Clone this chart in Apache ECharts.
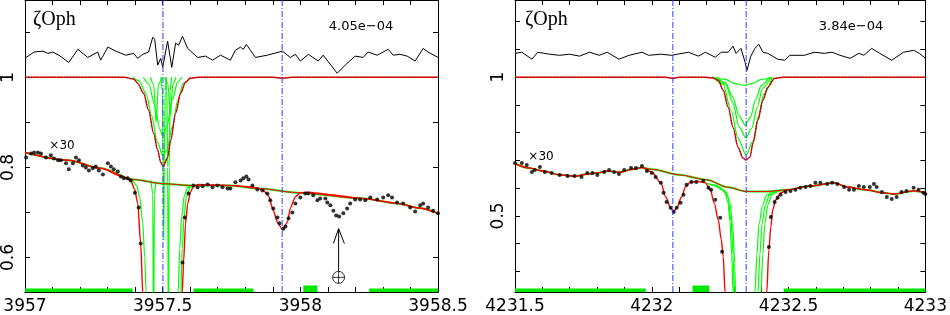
<!DOCTYPE html>
<html><head><meta charset="utf-8">
<script src="https://cdn.jsdelivr.net/npm/echarts@6/dist/echarts.min.js"></script>
<style>html,body{margin:0;padding:0;background:#fff}#c{width:950px;height:315px}</style>
</head><body><div id="c"></div>
<script>
// ---------------- LEFT PANEL DATA (3957 - 3958.5) ----------------
const leftXTicks = [3957.0,3957.1,3957.2,3957.3,3957.4,3957.5,3957.6,3957.7,3957.8,3957.9,3958.0,3958.1,3958.2,3958.3,3958.4,3958.5];
const leftXLabels = [3957.0,3957.5,3958.0,3958.5];
const leftYTicks = [0.6,0.7,0.8,0.9,1.0,1.1];
const leftYLabels = [0.6,0.8,1.0];
const leftResid = [[3957.004,1.044],[3957.033,1.056],[3957.065,1.058],[3957.083,1.053],[3957.101,1.056],[3957.123,1.049],[3957.159,1.033],[3957.192,1.062],[3957.228,1.044],[3957.264,1.056],[3957.275,1.038],[3957.301,1.067],[3957.330,1.058],[3957.366,1.049],[3957.395,1.053],[3957.409,1.042],[3957.428,1.051],[3957.449,1.056],[3957.464,1.089],[3957.471,1.084],[3957.482,1.027],[3957.493,1.042],[3957.500,1.022],[3957.518,1.080],[3957.533,1.022],[3957.547,1.076],[3957.558,1.071],[3957.572,1.091],[3957.591,1.064],[3957.627,1.044],[3957.656,1.047],[3957.681,1.038],[3957.710,1.049],[3957.746,1.038],[3957.764,1.060],[3957.783,1.067],[3957.793,1.062],[3957.804,1.073],[3957.819,1.060],[3957.837,1.044],[3957.880,1.049],[3957.935,1.058],[3957.964,1.044],[3957.982,1.051],[3958.000,1.036],[3958.029,1.051],[3958.065,1.036],[3958.083,1.049],[3958.134,1.009],[3958.163,1.027],[3958.199,1.047],[3958.228,1.044],[3958.246,1.056],[3958.279,1.049],[3958.319,1.062],[3958.337,1.049],[3958.362,1.051],[3958.388,1.047],[3958.417,1.036],[3958.446,1.064],[3958.464,1.056],[3958.500,1.044]];
const leftFit1 = [[3957.0,1.0],[3957.36,1.0],[3957.395,0.996],[3957.409,0.987],[3957.431,0.964],[3957.449,0.927],[3957.467,0.876],[3957.482,0.838],[3957.493,0.811],[3957.502,0.802],[3957.518,0.822],[3957.529,0.860],[3957.547,0.920],[3957.565,0.964],[3957.583,0.989],[3957.60,0.998],[3957.63,1.0],[3957.90,1.0],[3957.935,0.998],[3957.97,1.0],[3958.5,1.0]];
const leftComp1a = [[3957.39,1.0],[3957.415,0.992],[3957.44,0.963],[3957.46,0.915],[3957.48,0.858],[3957.50,0.826],[3957.515,0.838],[3957.535,0.89],[3957.555,0.95],[3957.575,0.987],[3957.60,1.0]];
const leftComp1b = [[3957.43,1.0],[3957.45,0.985],[3957.47,0.94],[3957.49,0.885],[3957.50,0.87],[3957.515,0.89],[3957.535,0.95],[3957.555,0.99],[3957.57,1.0]];
const leftComp1c = [[3957.455,1.0],[3957.467,0.985],[3957.476,0.90],[3957.485,0.985],[3957.497,1.0]];
const leftComp1d = [[3957.508,1.0],[3957.519,0.985],[3957.528,0.915],[3957.537,0.985],[3957.548,1.0]];
const leftComp1e = [[3957.494,1.0],[3957.499,0.97],[3957.502,0.80],[3957.504,0.638],[3957.506,0.80],[3957.509,0.97],[3957.514,1.0]];
const leftComp1f = [[3957.510,1.0],[3957.515,0.97],[3957.518,0.80],[3957.521,0.40],[3957.524,0.80],[3957.527,0.97],[3957.532,1.0]];
const leftCont30 = [[3957.0,0.833],[3957.156,0.816],[3957.275,0.798],[3957.395,0.773],[3957.50,0.764],[3957.60,0.760],[3957.746,0.760],[3957.85,0.753],[3957.989,0.744],[3958.228,0.731],[3958.355,0.720],[3958.43,0.710],[3958.5,0.698]];
const leftFit30a = [[3957.0,0.833],[3957.156,0.816],[3957.275,0.798],[3957.35,0.781],[3957.37,0.776],[3957.384,0.771],[3957.398,0.752],[3957.409,0.722],[3957.420,0.633],[3957.428,0.52],[3957.431,0.45]];
const leftFit30b = [[3957.568,0.45],[3957.571,0.52],[3957.576,0.59],[3957.583,0.675],[3957.591,0.72],[3957.601,0.745],[3957.612,0.758],[3957.63,0.762],[3957.70,0.761],[3957.80,0.758],[3957.84,0.755],[3957.862,0.751],[3957.884,0.738],[3957.902,0.704],[3957.917,0.678],[3957.935,0.662],[3957.953,0.678],[3957.964,0.710],[3957.982,0.735],[3958.0,0.744],[3958.03,0.745],[3958.1,0.740],[3958.228,0.731],[3958.355,0.72],[3958.43,0.71],[3958.5,0.698]];
const leftComp30a = [[3957.37,0.774],[3957.39,0.770],[3957.405,0.76],[3957.416,0.735],[3957.427,0.68],[3957.435,0.60],[3957.44,0.52],[3957.442,0.40]];
const leftComp30b = [[3957.459,0.765],[3957.464,0.74],[3957.467,0.40],[3957.470,0.74],[3957.475,0.765]];
const leftComp30c = [[3957.553,0.40],[3957.556,0.52],[3957.562,0.62],[3957.569,0.69],[3957.578,0.735],[3957.59,0.755],[3957.61,0.762]];
const leftComp30d = [[3957.562,0.40],[3957.566,0.52],[3957.571,0.62],[3957.578,0.69],[3957.586,0.735],[3957.60,0.756],[3957.62,0.762]];
const leftDots30 = [[3957.004,0.822],[3957.022,0.831],[3957.033,0.833],[3957.047,0.833],[3957.058,0.831],[3957.076,0.822],[3957.094,0.827],[3957.105,0.820],[3957.120,0.816],[3957.130,0.816],[3957.149,0.809],[3957.159,0.796],[3957.174,0.809],[3957.185,0.822],[3957.196,0.816],[3957.210,0.804],[3957.221,0.800],[3957.232,0.793],[3957.246,0.798],[3957.257,0.802],[3957.268,0.793],[3957.283,0.784],[3957.301,0.809],[3957.312,0.802],[3957.322,0.796],[3957.337,0.791],[3957.348,0.780],[3957.359,0.776],[3957.373,0.776],[3957.384,0.771],[3957.399,0.744],[3957.413,0.711],[3957.420,0.631],[3957.572,0.589],[3957.580,0.689],[3957.594,0.742],[3957.612,0.760],[3957.627,0.756],[3957.645,0.758],[3957.663,0.762],[3957.681,0.756],[3957.699,0.760],[3957.717,0.756],[3957.736,0.753],[3957.746,0.753],[3957.764,0.767],[3957.783,0.771],[3957.793,0.776],[3957.804,0.780],[3957.812,0.773],[3957.826,0.760],[3957.844,0.751],[3957.862,0.749],[3957.880,0.742],[3957.891,0.727],[3957.902,0.709],[3957.917,0.689],[3957.924,0.676],[3957.938,0.664],[3957.946,0.669],[3957.957,0.687],[3957.971,0.700],[3957.982,0.720],[3958.000,0.733],[3958.018,0.742],[3958.029,0.742],[3958.047,0.738],[3958.062,0.727],[3958.072,0.731],[3958.091,0.731],[3958.098,0.722],[3958.109,0.716],[3958.120,0.704],[3958.130,0.693],[3958.141,0.691],[3958.156,0.698],[3958.170,0.709],[3958.181,0.720],[3958.199,0.729],[3958.217,0.729],[3958.236,0.727],[3958.254,0.733],[3958.279,0.729],[3958.301,0.733],[3958.319,0.738],[3958.333,0.733],[3958.351,0.722],[3958.373,0.720],[3958.399,0.711],[3958.417,0.702],[3958.435,0.716],[3958.446,0.720],[3958.464,0.711],[3958.482,0.704],[3958.500,0.698]];
const leftComponents = [3957.501, 3957.934];
const leftMask = [[3957.0,3957.391],[3957.612,3957.83],[3958.25,3958.5]];
const leftMaskBox = [[3958.011,3958.062]];
const telluricWl = [3958.139];
const telluricArrow = [0.569, 0.664];   // base, tip
const telluricHead = [3958.120, 3958.160, 0.631];
const telluricSymbol = [0.556];

// ---------------- RIGHT PANEL DATA (4231.5 - 4233) ----------------
const rightXTicks = [4231.5,4231.6,4231.7,4231.8,4231.9,4232.0,4232.1,4232.2,4232.3,4232.4,4232.5,4232.6,4232.7,4232.8,4232.9,4233.0];
const rightXLabels = [4231.5,4232.0,4232.5,4233.0];
const rightYTicks = [0.3,0.4,0.5,0.6,0.7,0.8,0.9,1.0,1.1,1.2];
const rightYLabels = [0.5,1.0];
const rightResid = [[4231.500,1.086],[4231.525,1.090],[4231.562,1.065],[4231.583,1.090],[4231.627,1.083],[4231.663,1.079],[4231.699,1.083],[4231.736,1.076],[4231.772,1.090],[4231.808,1.079],[4231.837,1.090],[4231.880,1.065],[4231.917,1.079],[4231.964,1.090],[4231.989,1.079],[4232.033,1.083],[4232.072,1.079],[4232.134,1.090],[4232.170,1.076],[4232.196,1.090],[4232.232,1.072],[4232.254,1.090],[4232.279,1.090],[4232.297,1.112],[4232.308,1.086],[4232.326,1.104],[4232.341,1.054],[4232.348,1.025],[4232.362,1.076],[4232.377,1.104],[4232.391,1.119],[4232.406,1.090],[4232.424,1.086],[4232.460,1.065],[4232.486,1.061],[4232.504,1.079],[4232.558,1.079],[4232.594,1.090],[4232.630,1.086],[4232.659,1.090],[4232.688,1.079],[4232.725,1.068],[4232.757,1.086],[4232.775,1.079],[4232.804,1.104],[4232.833,1.086],[4232.877,1.061],[4232.920,1.090],[4232.957,1.097],[4232.978,1.086],[4233.000,1.068]];
const rightFit1 = [[4231.5,1.0],[4232.05,1.0],[4232.077,0.996],[4232.10,1.0],[4232.19,1.0],[4232.22,0.998],[4232.243,0.989],[4232.261,0.953],[4232.279,0.892],[4232.297,0.820],[4232.315,0.748],[4232.333,0.709],[4232.344,0.701],[4232.359,0.712],[4232.370,0.763],[4232.388,0.845],[4232.406,0.917],[4232.424,0.964],[4232.449,0.996],[4232.48,1.0],[4233.0,1.0]];
const rightComp1a = [[4232.22,1.0],[4232.27,0.992],[4232.30,0.978],[4232.335,0.971],[4232.37,0.978],[4232.40,0.992],[4232.44,1.0]];
const rightComp1b = [[4232.236,1.0],[4232.27,0.98],[4232.295,0.93],[4232.32,0.86],[4232.341,0.827],[4232.36,0.855],[4232.38,0.92],[4232.40,0.97],[4232.43,1.0]];
const rightComp1c = [[4232.236,1.0],[4232.27,0.975],[4232.295,0.91],[4232.32,0.82],[4232.344,0.781],[4232.365,0.815],[4232.385,0.89],[4232.405,0.96],[4232.435,1.0]];
const rightComp1d = [[4232.225,1.0],[4232.26,0.975],[4232.29,0.88],[4232.315,0.78],[4232.345,0.719],[4232.37,0.77],[4232.39,0.86],[4232.41,0.94],[4232.44,1.0]];
const rightCont30 = [[4231.5,0.688],[4231.55,0.673],[4231.60,0.662],[4231.663,0.648],[4231.72,0.643],[4231.76,0.650],[4231.80,0.655],[4231.84,0.662],[4231.88,0.657],[4231.93,0.668],[4231.964,0.674],[4232.0,0.668],[4232.1,0.648],[4232.2,0.630],[4232.28,0.603],[4232.345,0.588],[4232.42,0.588],[4232.496,0.594],[4232.58,0.608],[4232.667,0.619],[4232.714,0.604],[4232.78,0.594],[4232.848,0.583],[4232.884,0.579],[4232.957,0.590],[4233.0,0.583]];
const rightFit30a = [[4231.5,0.688],[4231.55,0.673],[4231.60,0.662],[4231.663,0.648],[4231.72,0.643],[4231.76,0.650],[4231.80,0.655],[4231.84,0.662],[4231.88,0.657],[4231.93,0.668],[4231.964,0.674],[4232.0,0.658],[4232.033,0.619],[4232.051,0.568],[4232.069,0.529],[4232.080,0.514],[4232.091,0.529],[4232.109,0.568],[4232.123,0.604],[4232.141,0.622],[4232.170,0.624],[4232.196,0.619],[4232.214,0.594],[4232.228,0.547],[4232.243,0.486],[4232.254,0.414],[4232.261,0.353],[4232.268,0.223],[4232.272,0.10]];
const rightFit30b = [[4232.417,0.10],[4232.420,0.223],[4232.428,0.378],[4232.435,0.460],[4232.442,0.522],[4232.453,0.558],[4232.471,0.583],[4232.496,0.594],[4232.58,0.608],[4232.667,0.619],[4232.714,0.604],[4232.78,0.594],[4232.848,0.583],[4232.884,0.579],[4232.957,0.590],[4233.0,0.583]];
const rightComp30a = [[4232.20,0.617],[4232.232,0.610],[4232.255,0.595],[4232.268,0.583],[4232.278,0.55],[4232.286,0.48],[4232.292,0.36],[4232.297,0.223],[4232.30,0.10]];
const rightComp30b = [[4232.21,0.615],[4232.24,0.607],[4232.265,0.59],[4232.278,0.57],[4232.290,0.48],[4232.297,0.36],[4232.304,0.10]];
const rightComp30c = [[4232.22,0.613],[4232.25,0.602],[4232.272,0.585],[4232.285,0.55],[4232.296,0.46],[4232.303,0.33],[4232.308,0.10]];
const rightComp30d = [[4232.37,0.10],[4232.377,0.223],[4232.384,0.36],[4232.392,0.47],[4232.405,0.54],[4232.42,0.575],[4232.45,0.59],[4232.48,0.594]];
const rightComp30e = [[4232.38,0.10],[4232.388,0.223],[4232.395,0.36],[4232.403,0.47],[4232.415,0.54],[4232.43,0.575],[4232.46,0.59],[4232.49,0.594]];
const rightComp30f = [[4232.39,0.10],[4232.399,0.223],[4232.406,0.36],[4232.413,0.47],[4232.424,0.54],[4232.44,0.578],[4232.47,0.592],[4232.50,0.595]];
const rightDots30 = [[4231.500,0.691],[4231.525,0.691],[4231.543,0.683],[4231.562,0.658],[4231.572,0.665],[4231.591,0.676],[4231.609,0.658],[4231.634,0.655],[4231.663,0.647],[4231.692,0.644],[4231.717,0.644],[4231.743,0.640],[4231.764,0.655],[4231.783,0.655],[4231.801,0.647],[4231.826,0.658],[4231.844,0.665],[4231.862,0.658],[4231.880,0.651],[4231.899,0.665],[4231.924,0.673],[4231.942,0.673],[4231.964,0.680],[4231.982,0.662],[4232.000,0.655],[4232.014,0.640],[4232.033,0.619],[4232.043,0.583],[4232.054,0.550],[4232.069,0.529],[4232.080,0.514],[4232.091,0.529],[4232.105,0.547],[4232.116,0.576],[4232.127,0.612],[4232.145,0.622],[4232.163,0.622],[4232.188,0.626],[4232.207,0.601],[4232.217,0.594],[4232.232,0.558],[4232.250,0.493],[4232.257,0.371],[4232.428,0.388],[4232.435,0.496],[4232.449,0.550],[4232.460,0.565],[4232.471,0.576],[4232.489,0.586],[4232.507,0.590],[4232.525,0.594],[4232.543,0.601],[4232.562,0.604],[4232.580,0.608],[4232.598,0.619],[4232.616,0.619],[4232.641,0.615],[4232.659,0.619],[4232.678,0.615],[4232.703,0.604],[4232.721,0.594],[4232.739,0.594],[4232.757,0.608],[4232.775,0.604],[4232.797,0.604],[4232.812,0.615],[4232.822,0.604],[4232.841,0.586],[4232.859,0.568],[4232.877,0.561],[4232.895,0.568],[4232.913,0.586],[4232.931,0.590],[4232.957,0.601],[4232.975,0.594],[4232.993,0.583],[4233.000,0.579]];
const rightComponents = [4232.077, 4232.345];
const rightMask = [[4231.5,4231.978],[4232.482,4233.0]];
const rightMaskBox = [[4232.149,4232.210]];

// ---------------- CHART ----------------
const RED = '#ff0000', GREEN = '#00ff00', BLUE = '#2b3dff', BLACK = '#000000';
const FONT = 'DejaVu Sans';
const fmt = v => String(Math.round(v * 10) / 10);

const chart = echarts.init(document.getElementById('c'), null, {renderer: 'canvas'});

function xAx(g, pos, min, max, ticks, labels) {
  return {type: 'value', gridIndex: g, position: pos, min, max,
    splitLine: {show: false},
    axisLine: {show: true, onZero: false, lineStyle: {color: BLACK, width: 1}},
    axisTick: {show: true, inside: true, length: 5, customValues: ticks, lineStyle: {color: BLACK, width: 1}},
    axisLabel: labels ? {show: true, customValues: labels, formatter: fmt, margin: 6, color: BLACK, fontFamily: FONT, fontSize: 17} : {show: false}};
}
function yAx(g, pos, min, max, ticks, labels) {
  return {type: 'value', gridIndex: g, position: pos, min, max,
    splitLine: {show: false},
    axisLine: {show: true, onZero: false, lineStyle: {color: BLACK, width: 1}},
    axisTick: {show: true, inside: true, length: 5, customValues: ticks, lineStyle: {color: BLACK, width: 1}},
    axisLabel: labels ? {show: true, customValues: labels, formatter: fmt, rotate: 90, margin: 8, color: BLACK, fontFamily: FONT, fontSize: 17} : {show: false}};
}
function ln(data, g, color, width, z, extra) {
  return Object.assign({type: 'line', xAxisIndex: g * 2, yAxisIndex: g * 2, data,
    symbol: 'none', showSymbol: false, smooth: 0.3, smoothMonotone: 'x', clip: true,
    color: color, itemStyle: {color: color},
    lineStyle: {color, width}, z, silent: true, animation: false}, extra || {});
}
function dots(data, g) {
  return {type: 'scatter', xAxisIndex: g * 2, yAxisIndex: g * 2, data, symbol: 'circle', symbolSize: 4,
    itemStyle: {color: BLACK}, z: 6, silent: true, animation: false, clip: true};
}
// blue dash-dot component lines, each a two-point vertical line through the axes
function compLine(g, wl, yMin, yMax) {
  return ln([[wl, yMin], [wl, yMax]], g, BLUE, 1, 9, {smooth: false,
    lineStyle: {color: BLUE, width: 1, type: [6, 2, 1, 2]}});
}
function maskBars(g, mask, box, yMin, hBar, hBox) {
  const c = '#00e800';
  return {type: 'line', xAxisIndex: g * 2, yAxisIndex: g * 2, data: [], color: c, z: 1, silent: true, animation: false,
    markArea: {silent: true, animation: false, itemStyle: {color: c, opacity: 1},
      data: mask.map(m => [{coord: [m[0], yMin], itemStyle: {color: c}}, {coord: [m[1], yMin + hBar]}])
        .concat(box.map(m => [{coord: [m[0], yMin], itemStyle: {color: c}}, {coord: [m[1], yMin + hBox]}]))}};
}

const LYMIN = 0.5235, LYMAX = 1.1715, RYMIN = 0.2255, RYMAX = 1.2784;

const series = [];
// left panel
series.push(maskBars(0, leftMask, leftMaskBox, LYMIN, 0.0078, 0.0145));
series.push(ln(leftResid, 0, BLACK, 1, 8, {smooth: false}));
[leftComp1a, leftComp1b, leftComp1c, leftComp1d, leftComp1e, leftComp1f].forEach(d => series.push(ln(d, 0, GREEN, 1.2, 2)));
series.push(ln(leftCont30, 0, GREEN, 2, 2));
[leftComp30a, leftComp30b, leftComp30c, leftComp30d].forEach(d => series.push(ln(d, 0, GREEN, 1.2, 2)));
series.push(ln(leftFit1, 0, RED, 1.4, 4));
series.push(ln(leftCont30, 0, RED, 1, 4));
series.push(ln(leftFit30a, 0, RED, 1.4, 4));
series.push(ln(leftFit30b, 0, RED, 1.4, 4, {smooth: 0.2}));
series.push(ln(leftFit1, 0, '#222222', 1, 5, {lineStyle: {color: '#222222', width: 1, type: [1, 2]}}));
series.push(dots(leftDots30, 0));
series.push(ln([[telluricWl[0], telluricArrow[0]], [telluricWl[0], telluricArrow[1]]], 0, BLACK, 1, 6, {smooth: false}));
series.push(ln([[telluricHead[0], telluricHead[2]], [telluricWl[0], telluricArrow[1]], [telluricHead[1], telluricHead[2]]], 0, BLACK, 1, 6, {smooth: false}));
series.push({type: 'scatter', xAxisIndex: 0, yAxisIndex: 0, data: [[telluricWl[0], telluricSymbol[0]]],
  symbol: 'path://M20,10 A10,10 0 1 1 0,10 A10,10 0 1 1 20,10 Z M10,0 L10,20 M0,10 L20,10', symbolSize: 12,
  itemStyle: {color: 'rgba(0,0,0,0)', borderColor: BLACK, borderWidth: 1}, z: 6, silent: true, animation: false});
leftComponents.forEach(w => series.push(compLine(0, w, LYMIN, LYMAX)));
// right panel
series.push(maskBars(1, rightMask, rightMaskBox, RYMIN, 0.0126, 0.0234));
series.push(ln(rightResid, 1, BLACK, 1, 8, {smooth: false}));
[rightComp1a, rightComp1b, rightComp1c, rightComp1d].forEach(d => series.push(ln(d, 1, GREEN, 1.2, 2)));
series.push(ln(rightCont30, 1, GREEN, 2, 2));
[rightComp30a, rightComp30b, rightComp30c, rightComp30d, rightComp30e, rightComp30f].forEach(d => series.push(ln(d, 1, GREEN, 1.2, 2)));
series.push(ln(rightFit1, 1, RED, 1.4, 4));
series.push(ln(rightCont30, 1, RED, 1, 4));
series.push(ln(rightFit30a, 1, RED, 1.4, 4));
series.push(ln(rightFit30b, 1, RED, 1.4, 4));
series.push(ln(rightFit1, 1, '#222222', 1, 5, {lineStyle: {color: '#222222', width: 1, type: [1, 2]}}));
series.push(dots(rightDots30, 1));
rightComponents.forEach(w => series.push(compLine(1, w, RYMIN, RYMAX)));

const txt = (x, y, text, font, align) => ({type: 'text', x, y, silent: true,
  style: {text, font, fill: BLACK, align: align || 'center', verticalAlign: 'middle', textAlign: align || 'center', textVerticalAlign: 'middle'}});

chart.setOption({
  animation: false,
  backgroundColor: '#ffffff',
  grid: [
    {left: 24, top: 0, width: 414, height: 293, containLabel: false},
    {left: 515, top: 0, width: 414, height: 293, containLabel: false}
  ],
  xAxis: [
    xAx(0, 'bottom', 3957.0, 3958.5, leftXTicks, leftXLabels),
    xAx(0, 'top', 3957.0, 3958.5, leftXTicks, null),
    xAx(1, 'bottom', 4231.5, 4233.0, rightXTicks, rightXLabels),
    xAx(1, 'top', 4231.5, 4233.0, rightXTicks, null)
  ],
  yAxis: [
    yAx(0, 'left', LYMIN, LYMAX, leftYTicks, leftYLabels),
    yAx(0, 'right', LYMIN, LYMAX, leftYTicks, null),
    yAx(1, 'left', RYMIN, RYMAX, rightYTicks, rightYLabels),
    yAx(1, 'right', RYMIN, RYMAX, rightYTicks, null)
  ],
  series,
  graphic: [
    txt(33, 20, 'ζOph', '20px "Liberation Serif"', 'left'),
    txt(525, 20, 'ζOph', '20px "Liberation Serif"', 'left'),
    txt(361, 27, '4.05e\u221204', '13px "DejaVu Sans"'),
    txt(851, 27, '3.84e\u221204', '13px "DejaVu Sans"'),
    txt(62, 146, '\u00d730', '12px "DejaVu Sans"'),
    txt(541, 157, '\u00d730', '12px "DejaVu Sans"')
  ]
});
</script></body></html>
